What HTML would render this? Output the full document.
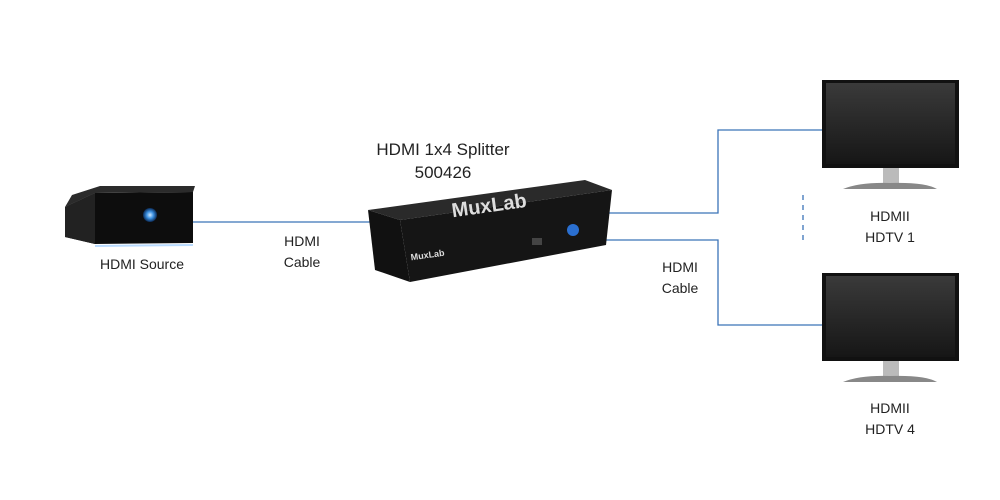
<!DOCTYPE html>
<html><head><style>
body{margin:0;width:1000px;height:500px;background:#fff;overflow:hidden;font-family:"Liberation Sans",sans-serif;}
.t{position:absolute;font-size:14px;color:#222;text-align:center;line-height:21px}
</style></head><body>
<svg width="1000" height="500" style="position:absolute;left:0;top:0">
<defs>
<linearGradient id="scr" x1="0" y1="0" x2="0" y2="1"><stop offset="0" stop-color="#3a3a3a"/><stop offset="1" stop-color="#161616"/></linearGradient>
<radialGradient id="glow"><stop offset="0" stop-color="#cfe8ff"/><stop offset="0.5" stop-color="#3a8fe0"/><stop offset="1" stop-color="#0b2a55"/></radialGradient>
</defs>
<g stroke="#3b73b8" stroke-width="1.3" fill="none">
<path d="M192 222H370"/>
<path d="M604 213H718V130H823"/>
<path d="M604 240H718V325H823"/>
<path d="M803 195V245" stroke-dasharray="5,5"/>
</g>
<!-- source -->
<polygon points="65,207 95,193 193,192 193,243 95,244 65,237" fill="#0d0d0d"/>
<polygon points="65,207 95,193 95,244 65,237" fill="#222"/>
<polygon points="72,195 100,186 195,186 193,192 95,193 65,207" fill="#2b2b2b"/>
<circle cx="150" cy="215" r="7" fill="url(#glow)"/>
<line x1="95" y1="246" x2="193" y2="245" stroke="#8cc4ff" stroke-width="2" opacity="0.6"/>
<!-- splitter -->
<polygon points="368,210 585,180 612,190 400,220" fill="#2a2a2a"/>
<polygon points="368,210 400,220 410,282 375,270" fill="#111"/>
<polygon points="400,220 612,190 606,245 410,282" fill="#151515"/>
<text x="490" y="212" font-size="20" font-weight="bold" fill="#ddd" transform="rotate(-8 490 212)" text-anchor="middle">MuxLab</text>
<text x="428" y="258" font-size="9" font-weight="bold" fill="#ddd" transform="rotate(-8 428 258)" text-anchor="middle">MuxLab</text>
<circle cx="573" cy="230" r="6" fill="#2a6fd0"/>
<rect x="532" y="238" width="10" height="7" fill="#444"/>
<!-- monitors -->
<g id="m">
<rect x="822" y="80" width="137" height="88" fill="#111"/>
<rect x="826" y="83" width="129" height="81" fill="url(#scr)"/>
<rect x="883" y="168" width="16" height="16" fill="#bbb"/>
<path d="M843 189Q860 182 890 183Q925 182 937 189Z" fill="#888"/>
</g>
<use href="#m" transform="translate(0,193)"/>
</svg>
<div class="t" style="left:343px;top:138px;width:200px;font-size:17px;line-height:23px">HDMI 1x4 Splitter<br>500426</div>
<div class="t" style="left:72px;top:254px;width:140px">HDMI Source</div>
<div class="t" style="left:262px;top:231px;width:80px">HDMI<br>Cable</div>
<div class="t" style="left:640px;top:257px;width:80px">HDMI<br>Cable</div>
<div class="t" style="left:840px;top:206px;width:100px">HDMII<br>HDTV 1</div>
<div class="t" style="left:840px;top:398px;width:100px">HDMII<br>HDTV 4</div>
</body></html>
